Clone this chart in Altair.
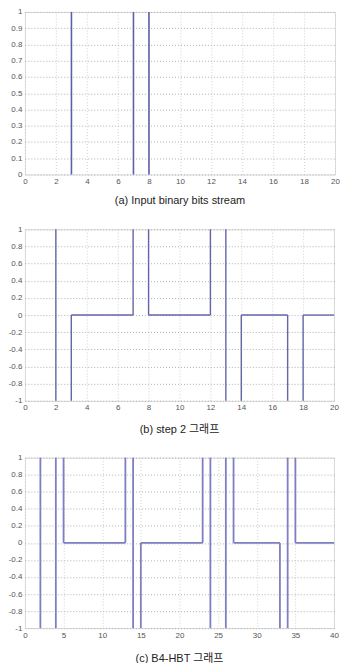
import altair as alt
import pandas as pd

# ---- data ----
# (a) input bit stream: positions of the 1-bits
a_x = [3, 7, 8]
a_y1 = [0, 0, 0]
a_y2 = [1, 1, 1]

# (b) step 2: vertical transitions (x, from, to) and zero-level segments
b_vx = [2, 3, 7, 8, 12, 13, 14, 17, 18]
b_vy1 = [-1, -1, 0, 0, 0, -1, -1, -1, -1]
b_vy2 = [1, 0, 1, 1, 1, 1, 0, 0, 0]
b_hx1 = [3, 8, 14, 18]
b_hx2 = [7, 12, 17, 20]
b_hy = [0, 0, 0, 0]

# (c) B4-HBT
c_vx = [2, 4, 5, 13, 14, 15, 23, 24, 26, 27, 33, 34, 35]
c_vy1 = [-1, -1, 0, 0, -1, -1, 0, -1, -1, 0, -1, -1, 0]
c_vy2 = [1, 1, 1, 1, 1, 0, 1, 1, 1, 1, 0, 1, 1]
c_hx1 = [5, 15, 27, 35]
c_hx2 = [13, 23, 33, 40]
c_hy = [0, 0, 0, 0]

a_xticks = list(range(0, 21, 2))
a_yticks = [round(i * 0.1, 1) for i in range(0, 11)]
b_xticks = list(range(0, 21, 2))
b_yticks = [round(-1 + i * 0.2, 1) for i in range(0, 11)]
c_xticks = list(range(0, 41, 5))
c_yticks = b_yticks

captions = ["(a) Input binary bits stream", "(b) step 2 그래프", "(c) B4-HBT 그래프"]

FONT = "Liberation Sans, Arial, Noto Sans CJK KR, sans-serif"


def make_axis(ticks, gcolor):
    return alt.Axis(values=ticks, title=None, grid=True, gridDash=[1, 2],
                    gridColor=gcolor, domain=False, ticks=False,
                    labelFontSize=8, labelColor="#555", labelFont=FONT,
                    labelPadding=3, labelFlush=False, labelOverlap=False,
                    labelExpr="'' + datum.value")


def panel(xdom, ydom, xticks, yticks, verts, horiz, caption, w, h, color, sw, toff):
    xs = alt.Scale(domain=xdom, nice=False, zero=False)
    ys = alt.Scale(domain=ydom, nice=False, zero=False)
    xa = make_axis(xticks, "#d0d0d0")
    ya = make_axis(yticks, "#b0b0b0")
    vdf = pd.DataFrame({"x": verts[0], "y1": verts[1], "y2": verts[2]})
    vlay = alt.Chart(vdf).mark_rule(color=color, strokeWidth=sw).encode(
        x=alt.X("x:Q", scale=xs, axis=xa),
        y=alt.Y("y1:Q", scale=ys, axis=ya),
        y2="y2:Q",
    )
    layers = [vlay]
    if horiz is not None:
        hdf = pd.DataFrame({"x1": horiz[0], "x2": horiz[1], "y": horiz[2]})
        hlay = alt.Chart(hdf).mark_rule(color=color, strokeWidth=sw).encode(
            x=alt.X("x1:Q", scale=xs, axis=xa),
            x2="x2:Q",
            y=alt.Y("y:Q", scale=ys, axis=ya),
        )
        layers.append(hlay)
    return alt.layer(*layers).properties(
        width=w, height=h,
        title=alt.TitleParams(text=caption, orient="bottom", fontSize=11,
                              font=FONT, fontWeight="normal", color="#222",
                              offset=toff),
    )


pa = panel([0, 20], [0, 1], a_xticks, a_yticks, (a_x, a_y1, a_y2), None,
           captions[0], 311, 163, "#5f5fa6", 1.6, 10)
pb = panel([0, 20], [-1, 1], b_xticks, b_yticks, (b_vx, b_vy1, b_vy2),
           (b_hx1, b_hx2, b_hy), captions[1], 310, 172, "#6464aa", 1.4, 12)
pc = panel([0, 40], [-1, 1], c_xticks, c_yticks, (c_vx, c_vy1, c_vy2),
           (c_hx1, c_hx2, c_hy), captions[2], 310, 171, "#7e7ec2", 1.8, 14)

chart = alt.vconcat(pa, pb, pc, spacing=17).properties(
    padding={"left": 7, "top": 6, "right": 0, "bottom": 0}
).configure_view(stroke="#9a9a9a", strokeWidth=1).configure(background="white")

chart.save("out.html", embed_options={"renderer": "svg", "actions": False})
